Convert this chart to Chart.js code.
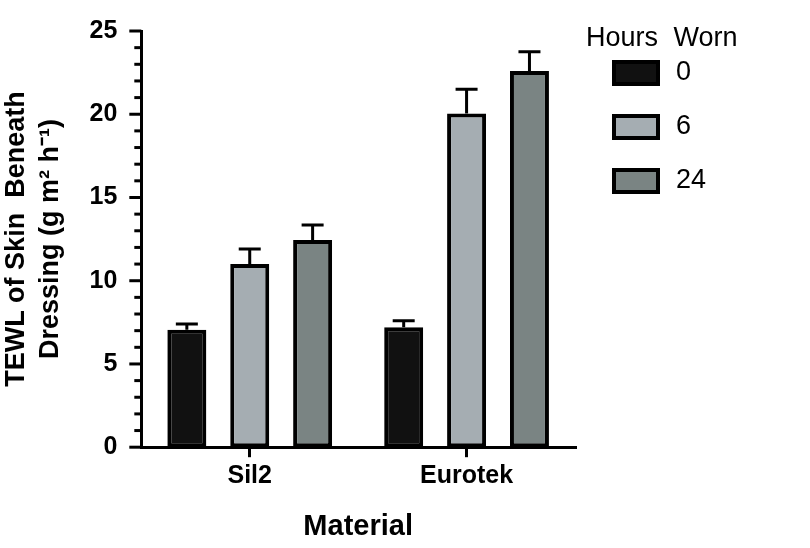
<!DOCTYPE html>
<html>
<head>
<script src="https://cdn.jsdelivr.net/npm/chart.js@4"></script>
<style>
  body { margin: 0; background: #fff; font-family: 'Liberation Sans', Arial, sans-serif; }
  #wrap { position: relative; width: 810px; height: 548px; }
  #legend { position: absolute; left: 640px; top: 22px; color: #000; font-size: 27px; }
  #legend .title { position: absolute; left: 0; top: 0; white-space: nowrap; word-spacing: 8px; }
  #legend .item { position: absolute; left: 26px; white-space: nowrap; }
  #legend .box { display: inline-block; width: 40px; height: 18px; border: 4px solid #000; vertical-align: middle; margin-right: 16px; }
</style>
</head>
<body>
<div id="wrap">
  <canvas id="chart" width="810" height="548"></canvas>
  <div id="legend"></div>
</div>
<script>
const materials = ['Sil2', 'Eurotek']
const hours = ['0', '6', '24']
const tewl0 = [7.05, 7.2]
const tewl6 = [11.0, 20.05]
const tewl24 = [12.45, 22.6]
const err0 = [0.35, 0.4]
const err6 = [0.9, 1.45]
const err24 = [0.9, 1.15]
const colors = ['#111111', '#a5adb2', '#7a8483']

const series = [tewl0, tewl6, tewl24]
const errs = [err0, err6, err24]

// html legend, one row per dataset
let legend = document.getElementById('legend')
legend.innerHTML = '<div class="title">Hours Worn</div>' + hours.map((h, i) =>
  `<div class="item" style="top:${34 + i * 54}px"><span class="box" style="background:${colors[i]}"></span>${h}</div>`
).join('')
legend.style.left = '586px'

// upward-only error bars
const errorBars = {
  id: 'errorBars',
  afterDatasetsDraw(chart) {
    const ctx = chart.ctx
    const y = chart.scales.y
    ctx.save()
    ctx.strokeStyle = '#000'
    ctx.lineWidth = 3
    chart.data.datasets.forEach((ds, i) => {
      chart.getDatasetMeta(i).data.forEach((bar, j) => {
        const top = y.getPixelForValue(ds.data[j] + errs[i][j])
        ctx.beginPath()
        ctx.moveTo(bar.x, bar.y)
        ctx.lineTo(bar.x, top)
        ctx.moveTo(bar.x - 11, top)
        ctx.lineTo(bar.x + 11, top)
        ctx.stroke()
      })
    })
    ctx.restore()
  }
}

// long ticks at multiples of 5, short ones in between
const yTicks = {
  id: 'yTicks',
  afterDraw(chart) {
    const ctx = chart.ctx
    const y = chart.scales.y
    ctx.save()
    ctx.strokeStyle = '#000'
    ctx.lineWidth = 3
    for (let v = 0; v <= 25; v++) {
      const p = y.getPixelForValue(v)
      const len = v % 5 === 0 ? 12 : 7
      ctx.beginPath()
      ctx.moveTo(y.right - len, p)
      ctx.lineTo(y.right, p)
      ctx.stroke()
    }
    ctx.restore()
  }
}

new Chart(document.getElementById('chart'), {
  type: 'bar',
  data: {
    labels: materials,
    datasets: hours.map((h, i) => ({
      label: h,
      data: series[i],
      backgroundColor: colors[i],
      borderColor: '#000',
      borderWidth: 4,
      borderSkipped: false
    }))
  },
  options: {
    responsive: false,
    animation: false,
    layout: { padding: { top: 28, right: 235, left: 0, bottom: 4 } },
    datasets: { bar: { barPercentage: 0.62, categoryPercentage: 0.87 } },
    plugins: {
      tooltip: { enabled: false },
      legend: { display: false }
    },
    scales: {
      x: {
        grid: { drawOnChartArea: false, offset: false, color: '#000', lineWidth: 3, tickLength: 10 },
        border: { color: '#000', width: 3 },
        ticks: { color: '#000', font: { family: 'Liberation Sans', size: 25, weight: 'bold' }, padding: 4 },
        title: {
          display: true, text: 'Material', color: '#000', padding: { top: 14, bottom: 0 },
          font: { family: 'Liberation Sans', size: 29, weight: 'bold' }
        }
      },
      y: {
        min: 0, max: 25,
        grid: { display: false },
        border: { color: '#000', width: 3 },
        ticks: {
          stepSize: 1, autoSkip: false, color: '#000', padding: 16,
          font: { family: 'Liberation Sans', size: 25, weight: 'bold' },
          callback: v => (v % 5 === 0 ? v : '')
        },
        title: {
          display: true, text: ['TEWL of Skin  Beneath', 'Dressing (g m\u00b2 h\u207b\u00b9)'],
          color: '#000', padding: { top: 0, bottom: 6 },
          font: { family: 'Liberation Sans', size: 27, weight: 'bold', lineHeight: 1.25 }
        }
      }
    }
  },
  plugins: [errorBars, yTicks]
})
</script>
</body>
</html>
